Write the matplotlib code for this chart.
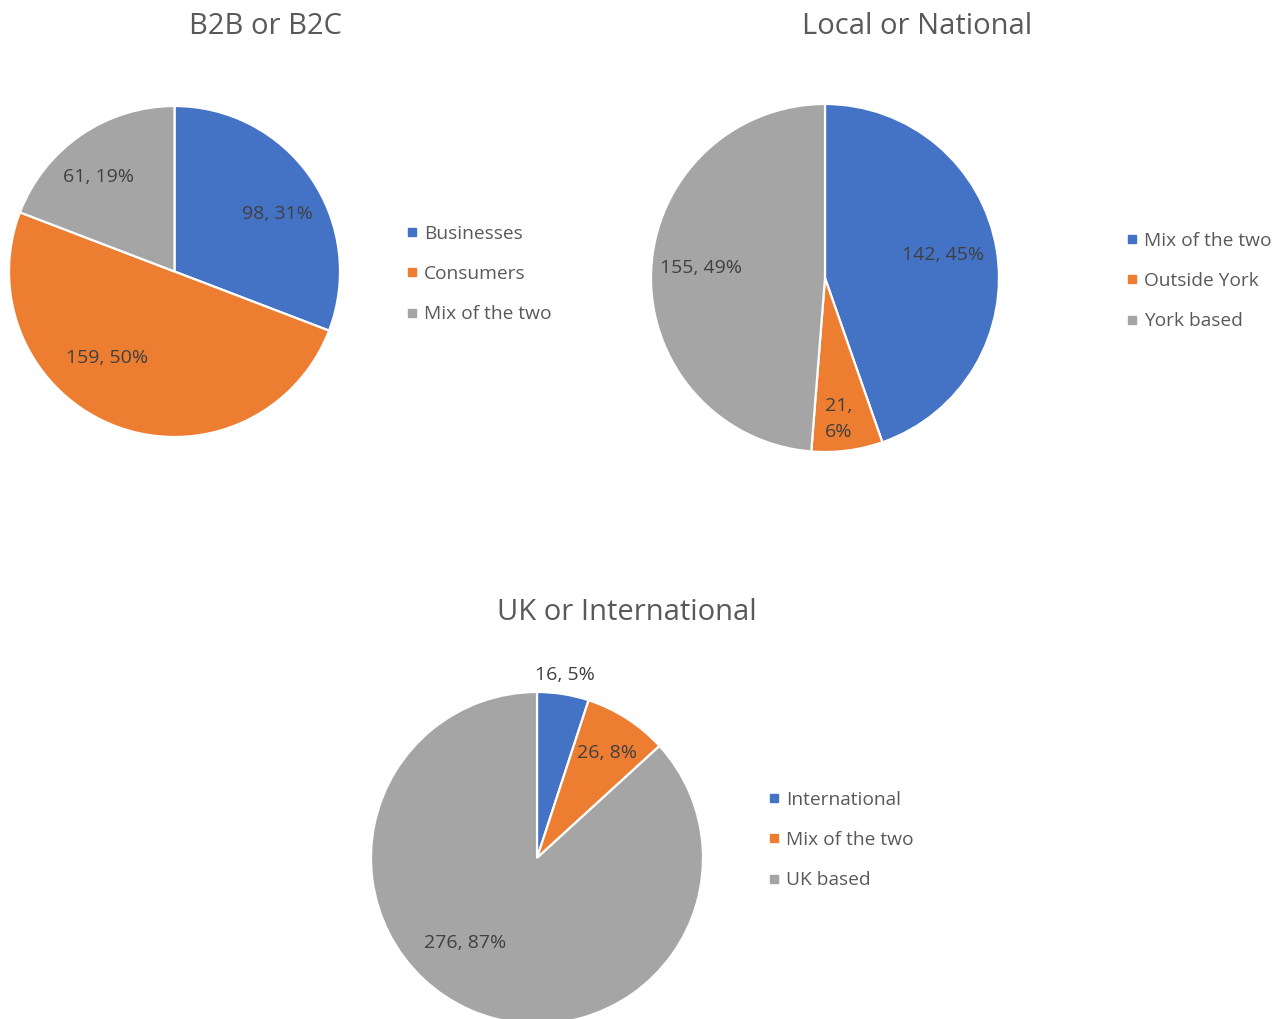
import matplotlib
matplotlib.use("Agg")
import matplotlib.pyplot as plt
from matplotlib.lines import Line2D

plt.rcParams['font.family'] = ['Open Sans', 'DejaVu Sans']

W, H = 1286, 1019

# ---- data ----
b2b_title = "B2B or B2C"
b2b_categories = ["Businesses", "Consumers", "Mix of the two"]
b2b_values = [98, 159, 61]
b2b_labels = ["98, 31%", "159, 50%", "61, 19%"]

local_title = "Local or National"
local_categories = ["Mix of the two", "Outside York", "York based"]
local_values = [142, 21, 155]
local_labels = ["142, 45%", "21,\n6%", "155, 49%"]

uk_title = "UK or International"
uk_categories = ["International", "Mix of the two", "UK based"]
uk_values = [16, 26, 276]
uk_labels = ["16, 5%", "26, 8%", "276, 87%"]

colors = ["#4472C4", "#ED7D31", "#A5A5A5"]
title_color = "#595959"
label_color = "#404040"

fig = plt.figure(figsize=(W / 100, H / 100), dpi=100)
fig.patch.set_facecolor("white")


def draw(center, r, values, labels, cats, label_pos, title, title_xy, leg_xy):
    cx, cy = center
    ax = fig.add_axes([(cx - r) / W, 1 - (cy + r) / H, 2 * r / W, 2 * r / H])
    ax.pie(values, colors=colors, startangle=90, counterclock=False,
           radius=1, wedgeprops=dict(edgecolor="white", linewidth=1.6))
    ax.set_xlim(-1, 1)
    ax.set_ylim(-1, 1)
    ax.axis("off")
    for lab, (lx, ly) in zip(labels, label_pos):
        ax.text(lx, ly, lab, ha="center", va="center", fontsize=14,
                color=label_color, linespacing=1.6)
    fig.text(title_xy[0] / W, 1 - title_xy[1] / H, title, ha="center",
             va="center", fontsize=21, color=title_color)
    handles = [Line2D([], [], marker="s", linestyle="none", markersize=6,
                      markerfacecolor=c, markeredgecolor=c) for c in colors]
    fig.legend(handles, cats, loc="center left",
               bbox_to_anchor=(leg_xy[0] / W, 1 - leg_xy[1] / H),
               frameon=False, fontsize=13.8, labelcolor=title_color,
               handlelength=0.5, handletextpad=0.4, labelspacing=1.17,
               borderpad=0, borderaxespad=0)


draw((174.5, 271.5), 165.5, b2b_values, b2b_labels, b2b_categories,
     [(0.62, 0.35), (-0.41, -0.52), (-0.46, 0.57)],
     b2b_title, (265, 27), (407, 274))

draw((825, 278), 174, local_values, local_labels, local_categories,
     [(0.68, 0.13), (0.08, -0.81), (-0.71, 0.06)],
     local_title, (917, 27), (1127, 281))

draw((537, 858), 166, uk_values, uk_labels, uk_categories,
     [(0.17, 1.10), (0.42, 0.63), (-0.43, -0.51)],
     uk_title, (627, 613), (769, 840))

fig.savefig("out.png", dpi=100, facecolor="white")
